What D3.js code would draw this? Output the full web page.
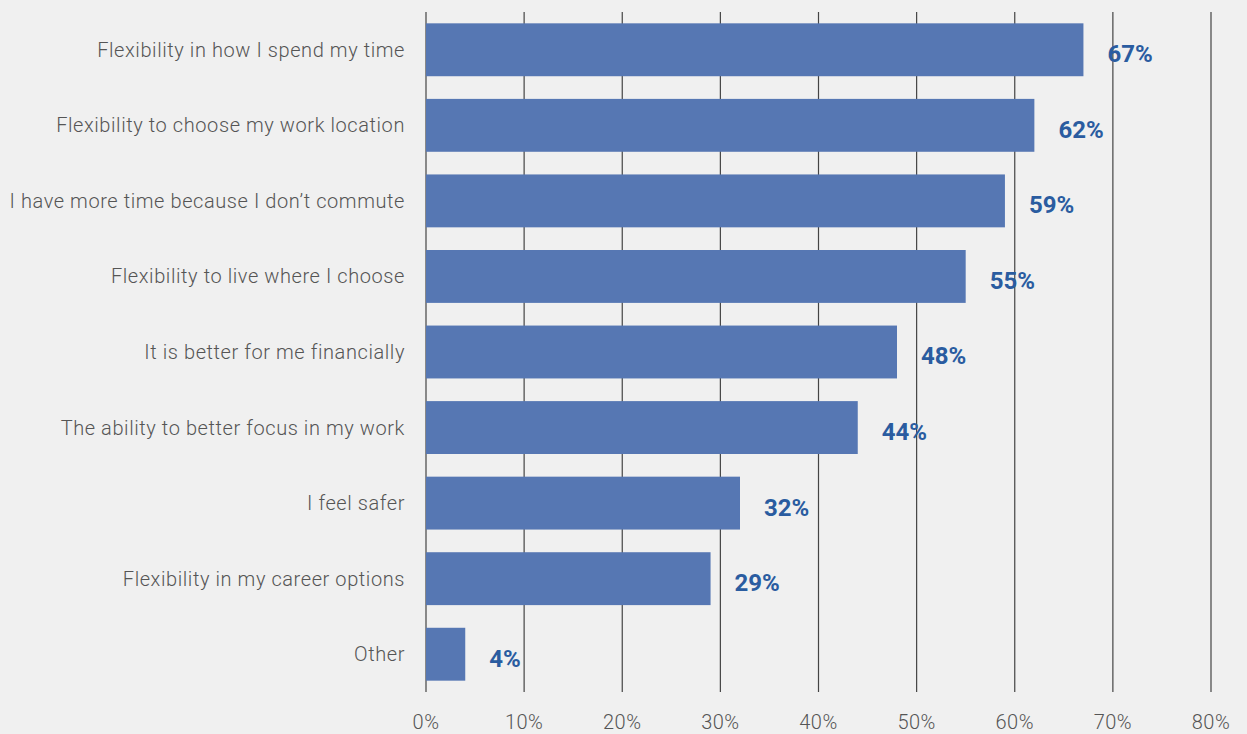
<!DOCTYPE html>
<html>
<head>
<meta charset="utf-8">
<script src="https://cdn.jsdelivr.net/npm/d3@7"></script>
<style>
  body { margin: 0; background: #f0f0f0; }
  svg { display: block; font-family: Roboto, "Noto Sans", sans-serif; }
</style>
</head>
<body>
<svg width="1247" height="734"></svg>
<script>
var categories = [
  "Flexibility in how I spend my time",
  "Flexibility to choose my work location",
  "I have more time because I don\u2019t commute",
  "Flexibility to live where I choose",
  "It is better for me financially",
  "The ability to better focus in my work",
  "I feel safer",
  "Flexibility in my career options",
  "Other"
];
var values = [67, 62, 59, 55, 48, 44, 32, 29, 4];
var ticks = [0, 10, 20, 30, 40, 50, 60, 70, 80];

var svg = d3.select("svg");
svg.append("rect").attr("width", 1247).attr("height", 734).attr("fill", "#f0f0f0");

var margins = { top: 12, left: 426, right: 36, bottom: 42 };
var width = 1247 - margins.left - margins.right;
var height = 734 - margins.top - margins.bottom;

var x = d3.scaleLinear().domain([0, 80]).range([0, width]);
var y = d3.scaleBand().domain(categories).range([0, height]).paddingInner(0.3).paddingOuter(0.15);

var g = svg.append("g").attr("transform", `translate(${margins.left},${margins.top})`);

// grid lines
g.selectAll("line.grid").data(ticks).enter().append("line")
  .attr("class", "grid")
  .attr("x1", d => x(d)).attr("x2", d => x(d))
  .attr("y1", 0).attr("y2", height)
  .attr("stroke", "#444").attr("stroke-width", 1.2);

// tick labels
g.selectAll("text.tick").data(ticks).enter().append("text")
  .attr("x", d => x(d)).attr("y", height + 37)
  .attr("text-anchor", "middle")
  .attr("fill", "#555").attr("font-size", 20).attr("font-weight", 300)
  .attr("letter-spacing", 0.5)
  .text(d => d + "%");

// bars
g.selectAll("rect.bar").data(values).enter().append("rect")
  .attr("x", 0)
  .attr("y", (d, i) => y(categories[i]))
  .attr("width", d => x(d))
  .attr("height", y.bandwidth())
  .attr("fill", "#5677b3");

// category labels
g.selectAll("text.cat").data(categories).enter().append("text")
  .attr("x", -21)
  .attr("y", d => y(d) + y.bandwidth() / 2)
  .attr("dy", "0.35em")
  .attr("text-anchor", "end")
  .attr("fill", "#555").attr("font-size", 20).attr("font-weight", 300)
  .attr("letter-spacing", 0.58)
  .text(d => d);

// value labels
g.selectAll("text.val").data(values).enter().append("text")
  .attr("x", d => x(d) + 24)
  .attr("y", (d, i) => y(categories[i]) + y.bandwidth() / 2 + 4)
  .attr("dy", "0.35em")
  .attr("fill", "#2a5ca0").attr("font-size", 24).attr("font-weight", "bold")
  .text(d => d + "%");
</script>
</body>
</html>
